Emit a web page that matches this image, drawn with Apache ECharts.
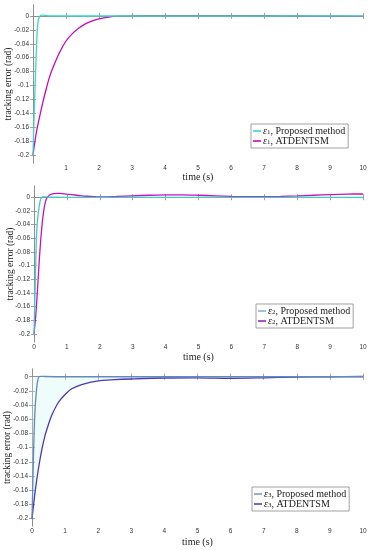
<!DOCTYPE html>
<html>
<head>
<meta charset="utf-8">
<script src="https://cdn.jsdelivr.net/npm/echarts@6/dist/echarts.min.js"></script>
<style>
html,body{margin:0;padding:0;background:#fff;}
#chart{width:375px;height:550px;}
</style>
</head>
<body>
<div id="chart"></div>
<script>
// ---- data ----
const xTicks = [0,1,2,3,4,5,6,7,8,9,10];
const yTicks = [0,-0.02,-0.04,-0.06,-0.08,-0.1,-0.12,-0.14,-0.16,-0.18,-0.2];
const yTickLabels = ['0','-0.02','-0.04','-0.06','-0.08','-0.1','-0.12','-0.14','-0.16','-0.18','-0.2'];
const xAxisTitle = 'time (s)';
const yAxisTitle = 'tracking error (rad)';
const seriesNames = [
  ['ε1, Proposed method','ε1, ATDENTSM'],
  ['ε2, Proposed method','ε2, ATDENTSM'],
  ['ε3, Proposed method','ε3, ATDENTSM']
];

// panel 1
const p1PropT = [0,0.01,0.03,0.05,0.07,0.1,0.13,0.16,0.2,0.25,0.3,0.4,0.6,1,2,4,6,8,10];
const p1PropV = [-0.2,-0.182,-0.15,-0.12,-0.092,-0.052,-0.02,-0.006,-0.001,0.0012,0.0012,0.0006,0.0002,0,0,0,0,0,0];
const p1AtdT = [0,0.1,0.2,0.3,0.4,0.5,0.6,0.8,1.0,1.2,1.4,1.6,1.8,2.0,2.3,2.6,3,4,5,6,7,8,9,10];
const p1AtdV = [-0.2,-0.168,-0.145,-0.124,-0.105,-0.088,-0.075,-0.053,-0.036,-0.025,-0.017,-0.011,-0.007,-0.004,-0.0015,-0.0003,0.0002,0.0005,0.0006,0.0005,0.0003,0,-0.0003,-0.0005];

// panel 2
const p2PropT = [0,0.02,0.04,0.06,0.08,0.1,0.14,0.18,0.22,0.28,0.35,0.5,1,2,4,6,8,10];
const p2PropV = [-0.2,-0.16,-0.12,-0.08,-0.052,-0.038,-0.02,-0.007,-0.001,0.0008,0.0006,0.0002,0,0,0,0,0,0];
const p2AtdT = [0,0.05,0.1,0.15,0.2,0.25,0.3,0.35,0.4,0.5,0.6,0.7,0.8,1.0,1.3,1.6,2.0,2.5,3,3.5,4,4.5,5,5.5,6,6.5,7,7.5,8,8.5,9,9.5,10];
const p2AtdV = [-0.2,-0.175,-0.14,-0.1,-0.065,-0.038,-0.018,-0.006,0,0.004,0.0055,0.0058,0.0056,0.0045,0.003,0.0015,0.0005,0.0012,0.0022,0.003,0.0034,0.0035,0.003,0.0022,0.0014,0.001,0.001,0.0013,0.002,0.003,0.004,0.0047,0.0048];

// panel 3
const p3PropT = [0,0.02,0.04,0.06,0.08,0.1,0.13,0.16,0.21,0.28,0.4,1,2,4,6,8,10];
const p3PropV = [-0.2,-0.16,-0.12,-0.085,-0.058,-0.04,-0.022,-0.009,0,0.0006,0.0003,0,0,0,0,0,0];
const p3AtdT = [0,0.05,0.1,0.2,0.3,0.4,0.5,0.6,0.8,1.0,1.2,1.5,2.0,2.5,3,4,5,6,7,8,9,10];
const p3AtdV = [-0.2,-0.18,-0.16,-0.128,-0.102,-0.082,-0.067,-0.054,-0.036,-0.025,-0.017,-0.011,-0.0058,-0.0042,-0.0032,-0.0018,-0.0015,-0.0022,-0.0015,-0.0005,0,0.0003];

// ---- build ----
function zip(t, v){ return t.map((x,i)=>[x, v[i]]); }

const grids = [
  {left:33, right:12, top:5,   height:158},
  {left:34, right:12, top:186, height:156},
  {left:32, right:12, top:369, height:157}
];
const yRanges = [[-0.2115,0.0158],[-0.2117,0.0165],[-0.2105,0.0109]];
const legendPos = [{left:251, top:124},{left:256, top:304},{left:252, top:487}];
const nameGaps = [9,10,11];
const yNameGaps = [20,19,20];
const colors = [
  ['#3ed6c8','#c808c0'],
  ['#3ccfc6','#c810c0'],
  ['#6688c0','#4a38b4']
];
const legendColors = [
  ['#3ed6c8','#c808c0'],
  ['#82b4d8','#9a28b8'],
  ['#7d9ccc','#5a3cb0']
];
const seriesData = [
  [zip(p1PropT,p1PropV), zip(p1AtdT,p1AtdV)],
  [zip(p2PropT,p2PropV), zip(p2AtdT,p2AtdV)],
  [zip(p3PropT,p3PropV), zip(p3AtdT,p3AtdV)]
];

const axisCol = '#8a8a8a';
const labelFont = {fontFamily:'Liberation Sans', fontSize:6.5, color:'#333'};
const serif = 'Liberation Serif';

const option = {
  animation:false,
  backgroundColor:'#fff',
  grid: grids.map(g=>Object.assign({containLabel:false, outerBoundsMode:'none'}, g)),
  xAxis: [], yAxis: [], series: [], legend: []
};

for (let p=0;p<3;p++){
  const xi = option.xAxis.length;
  option.xAxis.push({
    type:'value', gridIndex:p, min:0, max:10, interval:1, position:'bottom',
    axisLine:{show:true, lineStyle:{color:axisCol, width:0.8}},
    axisTick:{show:true, inside:true, length:3, lineStyle:{color:axisCol, width:0.8}},
    splitLine:{show:false},
    axisLabel:Object.assign({margin:2, formatter:(v)=> (p===0 && v===0) ? '' : String(v)}, labelFont),
    name:xAxisTitle, nameLocation:'middle', nameGap:nameGaps[p], nameMoveOverlap:false,
    nameTextStyle:{fontFamily:serif, fontSize:10, color:'#222', verticalAlign:'top'}
  });
  option.xAxis.push({
    type:'value', gridIndex:p, min:0, max:10, interval:1, position:'top',
    axisLine:{show:true, lineStyle:{color:axisCol, width:0.8}},
    axisTick:{show:true, inside:true, length:3, lineStyle:{color:axisCol, width:0.8}},
    splitLine:{show:false}, axisLabel:{show:false}
  });
  const yi = option.yAxis.length;
  option.yAxis.push({
    type:'value', gridIndex:p, min:yRanges[p][0], max:yRanges[p][1], position:'left',
    axisLine:{show:true, lineStyle:{color:axisCol, width:0.8}},
    axisTick:{show:true, inside:true, length:3, customValues:yTicks, lineStyle:{color:axisCol, width:0.8}},
    splitLine:{show:false},
    axisLabel:Object.assign({margin:4, customValues:yTicks, formatter:(v)=>{
      let best=0, bd=1e9;
      yTicks.forEach((t,i)=>{const d=Math.abs(t-v); if(d<bd){bd=d;best=i;}});
      return yTickLabels[best];
    }}, labelFont),
    name:yAxisTitle, nameLocation:'middle', nameGap:yNameGaps[p], nameRotate:90, nameMoveOverlap:false,
    nameTextStyle:{fontFamily:serif, fontSize:9.5, color:'#222'}
  });
  option.yAxis.push({
    type:'value', gridIndex:p, min:yRanges[p][0], max:yRanges[p][1], position:'right',
    axisLine:{show:true, lineStyle:{color:axisCol, width:0.8}},
    axisTick:{show:true, inside:true, length:3, customValues:yTicks, lineStyle:{color:axisCol, width:0.8}},
    splitLine:{show:false}, axisLabel:{show:false}
  });
  for (let s=0;s<2;s++){
    const ser = {
      type:'line', name:seriesNames[p][s], xAxisIndex:xi, yAxisIndex:yi,
      data:seriesData[p][s], symbol:'none', smooth:0.3,
      lineStyle:{color:colors[p][s], width:1.3},
      itemStyle:{color:legendColors[p][s]},
      z: s===0 ? 3 : 2
    };
    if (p===2 && s===1){
      ser.areaStyle = {color:'rgba(200,245,245,0.45)', origin:0};
    }
    option.series.push(ser);
  }
  option.legend.push(Object.assign({
    data:seriesNames[p], orient:'vertical', icon:'rect', itemWidth:8, itemHeight:1.6,
    itemGap:0, padding:[2,3,2,2], backgroundColor:'#fff', borderColor:'#8a8a8a', borderWidth:0.8,
    formatter:(name)=> '{e|ε}{s|' + name.charAt(1) + '}{t|' + name.slice(2) + '}',
    textStyle:{
      fontFamily:serif, fontSize:10, color:'#222', padding:[0,0,0,-3],
      rich:{
        e:{fontFamily:serif, fontStyle:'italic', fontSize:10, color:'#222', lineHeight:10},
        s:{fontFamily:serif, fontSize:7, color:'#222', verticalAlign:'bottom', lineHeight:6},
        t:{fontFamily:serif, fontSize:10, color:'#222', lineHeight:10}
      }
    }
  }, legendPos[p]));
}

const chart = echarts.init(document.getElementById('chart'), null, {renderer:'canvas'});
chart.setOption(option);
</script>
</body>
</html>
